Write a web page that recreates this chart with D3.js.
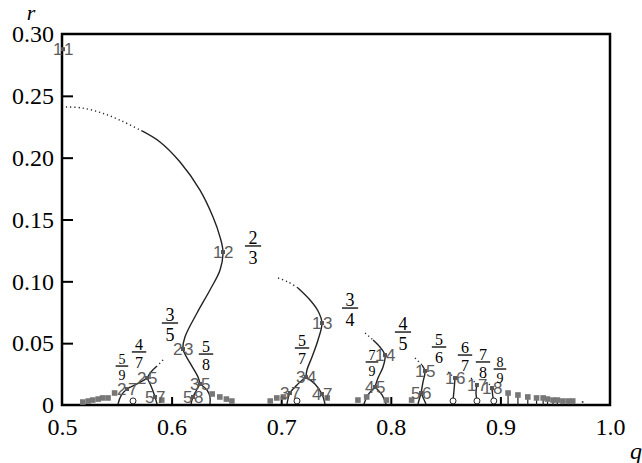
<!DOCTYPE html>
<html><head><meta charset="utf-8">
<script src="https://cdn.jsdelivr.net/npm/d3@7"></script>
<style>body{margin:0;background:#fff}</style>
</head><body><svg id="c" width="642" height="463"></svg>
<script>
const xTicks=[0.5,0.6,0.7,0.8,0.9,1.0];
const xTickLabels=["0.5","0.6","0.7","0.8","0.9","1.0"];
const yTicks=[0,0.05,0.10,0.15,0.20,0.25,0.30];
const yTickLabels=["0","0.05","0.10","0.15","0.20","0.25","0.30"];

// main 1:2 branch
const c12Dotted=[[0.5036,0.2410],[0.5182,0.2402],[0.5365,0.2361],[0.5547,0.2296],[0.5730,0.2216]];
const c12Solid=[[0.5730,0.2216],[0.5894,0.2127],[0.6077,0.1965],[0.6259,0.1738],[0.6378,0.1520],[0.6442,0.1358],[0.6469,0.1237],[0.6442,0.1092],[0.6350,0.0930],[0.6232,0.0744],[0.6122,0.0550],[0.6104,0.0453],[0.6168,0.0340],[0.6241,0.0226],[0.6259,0.0170]];
const c35Left=[[0.6259,0.0170],[0.6223,0.0113],[0.6195,0.0065],[0.6177,0.0008]];
const c35Right=[[0.6259,0.0170],[0.6323,0.0121],[0.6350,0.0065],[0.6350,0.0008]];
// 1:3 branch
const c13Dotted=[[0.6971,0.1027],[0.7062,0.0995],[0.7153,0.0946]];
const c13Solid=[[0.7153,0.0946],[0.7263,0.0849],[0.7336,0.0760],[0.7372,0.0663],[0.7336,0.0526],[0.7281,0.0388],[0.7235,0.0283],[0.7226,0.0226]];
const c34Left=[[0.7226,0.0226],[0.7144,0.0162],[0.7080,0.0097],[0.7053,0.0008]];
const c34Right=[[0.7226,0.0226],[0.7308,0.0170],[0.7372,0.0089],[0.7400,0.0008]];
// 1:4 branch
const c14Dotted=[[0.7765,0.0582],[0.7838,0.0526]];
const c14Solid=[[0.7838,0.0526],[0.7901,0.0469],[0.7947,0.0404],[0.7929,0.0307],[0.7883,0.0218],[0.7856,0.0146]];
const c45Left=[[0.7856,0.0146],[0.7792,0.0081],[0.7755,0.0008]];
const c45Right=[[0.7856,0.0146],[0.7920,0.0081],[0.7956,0.0008]];
// 1:5 branch
const c15Dotted=[[0.8221,0.0380],[0.8285,0.0323]];
const c15Solid=[[0.8285,0.0323],[0.8312,0.0275],[0.8294,0.0186],[0.8276,0.0097]];
const c56Left=[[0.8276,0.0097],[0.8248,0.0008]];
const c56Right=[[0.8276,0.0097],[0.8321,0.0008]];
// 1:6, 1:7, 1:8
const c16Dotted=[[0.8522,0.0267],[0.8586,0.0218]];
const c16Solid=[[0.8586,0.0218],[0.8577,0.0121],[0.8568,0.0040]];
const c17Dotted=[[0.8732,0.0218],[0.8786,0.0162]];
const c17Solid=[[0.8786,0.0162],[0.8777,0.0097],[0.8786,0.0040]];
const c18Dotted=[[0.8896,0.0170],[0.8923,0.0137]];
const c18Solid=[[0.8923,0.0137],[0.8932,0.0065],[0.8940,0.0040]];
// 2:5 branch
const c25Dotted=[[0.5922,0.0364],[0.5867,0.0315]];
const c25Solid=[[0.5867,0.0315],[0.5812,0.0267],[0.5776,0.0218]];
const c25Left=[[0.5776,0.0218],[0.5684,0.0170],[0.5593,0.0129],[0.5538,0.0073],[0.5511,0.0008]];
const c25Right=[[0.5776,0.0218],[0.5812,0.0154],[0.5849,0.0065],[0.5867,0.0008]];

// labelled resonance points
const ratioPoints=[
 {n:"1",d:"1",q:0.5009,r:0.2877},
 {n:"1",d:"2",q:0.6469,r:0.1237},
 {n:"1",d:"3",q:0.7372,r:0.0663},
 {n:"1",d:"4",q:0.7947,r:0.0404},
 {n:"1",d:"5",q:0.8312,r:0.0275},
 {n:"1",d:"6",q:0.8586,r:0.0218},
 {n:"1",d:"7",q:0.8786,r:0.0162},
 {n:"1",d:"8",q:0.8923,r:0.0137},
 {n:"2",d:"3",q:0.6104,r:0.0453},
 {n:"2",d:"5",q:0.5776,r:0.0218},
 {n:"2",d:"7",q:0.5593,r:0.0129},
 {n:"3",d:"5",q:0.6259,r:0.0170},
 {n:"5",d:"8",q:0.6195,r:0.0065},
 {n:"5",d:"7",q:0.5849,r:0.0065},
 {n:"3",d:"4",q:0.7226,r:0.0226},
 {n:"3",d:"7",q:0.7080,r:0.0097},
 {n:"4",d:"7",q:0.7372,r:0.0089},
 {n:"4",d:"5",q:0.7856,r:0.0146},
 {n:"5",d:"6",q:0.8276,r:0.0097}
];
// fraction annotations
const fractions=[
 {n:"2",d:"3",q:0.6743,r:0.1286},
 {n:"3",d:"4",q:0.7628,r:0.0784},
 {n:"3",d:"5",q:0.5985,r:0.0663},
 {n:"4",d:"7",q:0.5703,r:0.0429},
 {n:"5",d:"9",q:0.5547,r:0.0315},
 {n:"5",d:"8",q:0.6314,r:0.0412},
 {n:"5",d:"7",q:0.7190,r:0.0461},
 {n:"4",d:"5",q:0.8111,r:0.0590},
 {n:"7",d:"9",q:0.7828,r:0.0348},
 {n:"5",d:"6",q:0.8440,r:0.0469},
 {n:"6",d:"7",q:0.8677,r:0.0404},
 {n:"7",d:"8",q:0.8841,r:0.0348},
 {n:"8",d:"9",q:0.8996,r:0.0291}
];
// unlabelled high-order points near r=0
const smallPointsQ=[0.519,0.524,0.528,0.533,0.537,0.542,0.548,0.591,0.637,0.644,0.650,0.655,0.690,0.696,0.702,0.742,0.770,0.778,0.796,0.819];
const smallPointsR=[0.0024,0.0032,0.0040,0.0048,0.0057,0.0057,0.0097,0.0040,0.0089,0.0065,0.0048,0.0032,0.0032,0.0057,0.0065,0.0057,0.0040,0.0065,0.0040,0.0040];
const tailPointsQ=[0.907,0.916,0.925,0.933,0.939,0.943,0.948,0.952,0.957,0.962,0.966];
const tailPointsR=[0.0097,0.0081,0.0065,0.0057,0.0057,0.0048,0.0040,0.0040,0.0032,0.0032,0.0032];
const circleQ=[0.5648,0.7144,0.8568,0.8786,0.8940];
const circleR=[0.0025,0.0025,0.0025,0.0025,0.0025];

const W=642,H=463,L=62,R=610,T=34,B=405;
const svg=d3.select("#c");
const x=d3.scaleLinear().domain([0.5,1.0]).range([L,R]);
const y=d3.scaleLinear().domain([0,0.3]).range([B,T]);
const serif="'Liberation Serif','Times New Roman',serif";
const sans="'Liberation Sans',Arial,sans-serif";

// axes
const ax=svg.append("g").attr("transform",`translate(0,${B})`)
 .call(d3.axisBottom(x).tickValues(xTicks).tickFormat((d,i)=>xTickLabels[i]).tickSizeInner(-8).tickSizeOuter(0).tickPadding(13));
const ay=svg.append("g").attr("transform",`translate(${L},0)`)
 .call(d3.axisLeft(y).tickValues(yTicks).tickFormat((d,i)=>yTickLabels[i]).tickSizeInner(-11).tickSizeOuter(0).tickPadding(8));
[ax,ay].forEach(g=>{g.select(".domain").remove();
 g.selectAll("line").attr("stroke","#000").attr("stroke-width",2);
 g.selectAll("text").attr("font-family",serif).attr("font-size",24).attr("fill","#000");});
ax.selectAll(".tick").filter(d=>d===0.5||d===1.0).select("line").remove();
ay.selectAll(".tick").filter(d=>d===0||d===0.3).select("line").remove();

svg.append("rect").attr("x",L).attr("y",T).attr("width",R-L).attr("height",B-T)
 .attr("fill","none").attr("stroke","#000").attr("stroke-width",2.5);

svg.append("text").attr("x",31).attr("y",20).attr("text-anchor","middle").attr("font-family",serif)
 .attr("font-style","italic").attr("font-size",22).text("r");
svg.append("text").attr("x",636).attr("y",459).attr("text-anchor","middle").attr("font-family",serif)
 .attr("font-style","italic").attr("font-size",24).text("q");

// curves
const line=d3.line().x(d=>x(d[0])).y(d=>y(d[1])).curve(d3.curveCatmullRom.alpha(0.5));
const dottedSets=[c12Dotted,c13Dotted,c14Dotted,c15Dotted,c16Dotted,c17Dotted,c18Dotted,c25Dotted];
const solidSets=[c12Solid,c35Left,c35Right,c13Solid,c34Left,c34Right,c14Solid,c45Left,c45Right,c15Solid,c56Left,c56Right,c16Solid,c17Solid,c18Solid,c25Solid,c25Left,c25Right];
const gc=svg.append("g");
gc.selectAll(".dot").data(dottedSets).join("path").attr("d",line).attr("fill","none")
 .attr("stroke","#222").attr("stroke-width",1.4).attr("stroke-dasharray","1.2,3");
gc.selectAll(".sol").data(solidSets).join("path").attr("d",line).attr("fill","none")
 .attr("stroke","#222").attr("stroke-width",1.4);

// circles
svg.append("g").selectAll("circle").data(circleQ).join("circle")
 .attr("cx",d=>x(d)).attr("cy",(d,i)=>y(circleR[i])-1).attr("r",3)
 .attr("fill","#fff").attr("stroke","#222").attr("stroke-width",1);

// tail points with stems
const gt=svg.append("g");
gt.selectAll("line").data(tailPointsQ).join("line")
 .attr("x1",d=>x(d)).attr("x2",d=>x(d)).attr("y1",(d,i)=>y(tailPointsR[i])).attr("y2",B)
 .attr("stroke","#222").attr("stroke-width",1.2);
gt.selectAll("rect").data(tailPointsQ).join("rect")
 .attr("x",d=>x(d)-2.8).attr("y",(d,i)=>y(tailPointsR[i])-2.8).attr("width",5.6).attr("height",5.6).attr("fill","#777");
svg.append("g").selectAll("rect").data(smallPointsQ).join("rect")
 .attr("x",d=>x(d)-2.8).attr("y",(d,i)=>y(smallPointsR[i])-2.8).attr("width",5.6).attr("height",5.6).attr("fill","#777");
svg.append("circle").attr("cx",x(0.975)).attr("cy",y(0.0024)).attr("r",1).attr("fill","#444");

// ratio labels
const gr=svg.append("g").attr("font-family",sans).attr("font-size",17).attr("fill","#5c5c5c");
ratioPoints.forEach(p=>{
 const px=x(p.q),py=y(p.r);
 gr.append("text").attr("x",px-0.5).attr("y",py).attr("dy","0.36em").attr("text-anchor","end").text(p.n);
 gr.append("text").attr("x",px+1).attr("y",py).attr("dy","0.36em").attr("text-anchor","start").text(p.d);
 gr.append("rect").attr("x",px-2).attr("y",py-2).attr("width",4).attr("height",4).attr("fill","#555");
});

// fractions
const gf=svg.append("g").attr("font-family",serif).attr("fill","#000");
fractions.forEach(f=>{
 const den=+f.d;
 const fs=den<=5?18:(den<=8?16:14);
 const cx=x(f.q),cy=y(f.r);
 gf.append("text").attr("x",cx).attr("y",cy-2).attr("text-anchor","middle").attr("font-size",fs).text(f.n);
 gf.append("line").attr("x1",cx-fs*0.45).attr("x2",cx+fs*0.45).attr("y1",cy).attr("y2",cy).attr("stroke","#000").attr("stroke-width",1.3);
 gf.append("text").attr("x",cx).attr("y",cy+fs*0.98).attr("text-anchor","middle").attr("font-size",fs).text(f.d);
});
</script></body></html>
